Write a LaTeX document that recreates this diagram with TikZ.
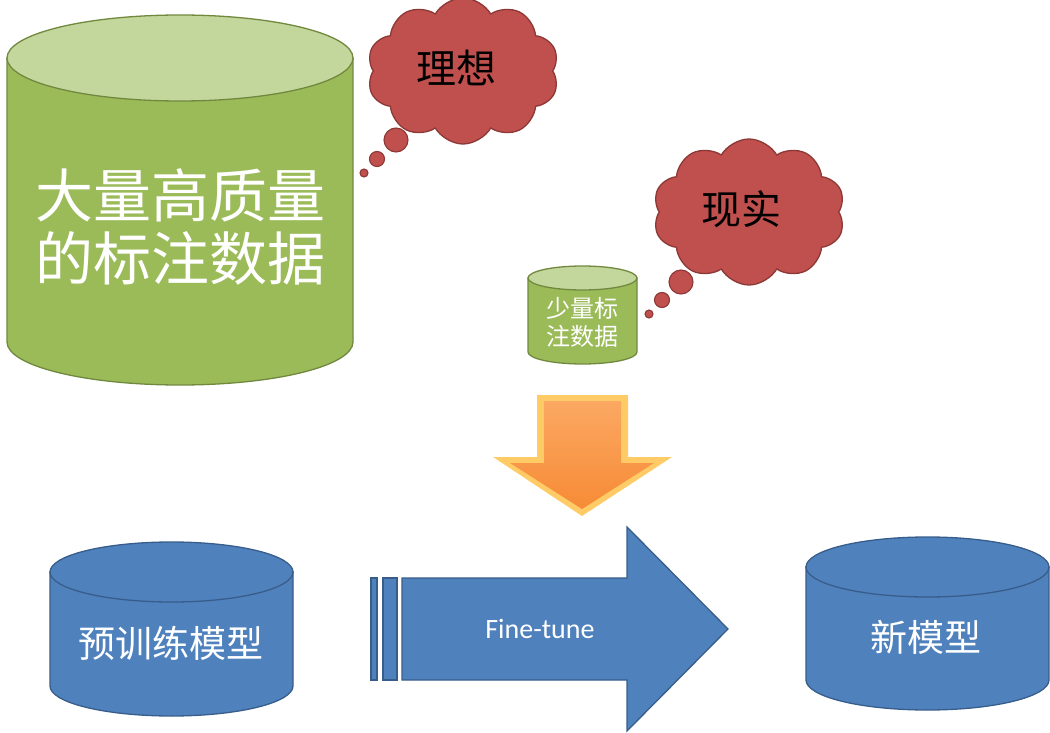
\documentclass[tikz,border=0pt]{standalone}
\usepackage{fontspec}
\setmainfont{Carlito}
\newfontfamily\cjk{Noto Sans CJK SC}
\usetikzlibrary{shapes.symbols}
\definecolor{gfill}{HTML}{9BBB59}
\definecolor{gtop}{HTML}{C3D69B}
\definecolor{gline}{HTML}{71893F}
\definecolor{rfill}{HTML}{C0504D}
\definecolor{rline}{HTML}{8C3836}
\definecolor{bfill}{HTML}{4F81BD}
\definecolor{bline}{HTML}{385D8A}
\definecolor{oglow}{HTML}{FFCB66}
\definecolor{otop}{HTML}{FBA862}
\definecolor{obot}{HTML}{F68B36}
\tikzset{
  gcyl/.style={fill=gfill, draw=gline, line width=1.3pt},
  gcyltop/.style={fill=gtop, draw=gline, line width=1.3pt},
  bcyl/.style={fill=bfill, draw=bline, line width=1.3pt},
  thought/.style={cloud, cloud puffs=10, cloud puff arc=120, aspect=1.3, fill=rfill, draw=rline, line width=1.3pt, inner sep=0pt},
  bubble/.style={circle, fill=rfill, draw=rline, line width=1.1pt, inner sep=0pt},
  wtext/.style={text=white, align=center, inner sep=0pt},
}
\begin{document}
\begin{tikzpicture}[x=1pt,y=-1pt]
\useasboundingbox (0,0) rectangle (1050,733);
% big green cylinder
\draw[gcyl] (7,58) -- (7,342) arc[start angle=180,end angle=360,x radius=173pt,y radius=43pt] -- (353,58) -- cycle;
\draw[gcyltop] (180,58) ellipse[x radius=173pt,y radius=43pt];
\node[wtext, font=\cjk\fontsize{58}{63}\selectfont] (big) at (180,227) {大量高质量\\的标注数据};
% thought 1
\node[thought, minimum width=192pt, minimum height=146pt] (c1) at (463,71) {};
\node[font=\cjk\fontsize{40}{44}\selectfont, inner sep=0pt] (t1) at (456,68) {理想};
\node[bubble, minimum size=24pt] (b11) at (396,140) {};
\node[bubble, minimum size=15pt] (b12) at (377,159) {};
\node[bubble, minimum size=8pt] (b13) at (364,173) {};
% small green cylinder
\draw[gcyl] (528,278) -- (528,352) arc[start angle=180,end angle=360,x radius=54.5pt,y radius=12pt] -- (637,278) -- cycle;
\draw[gcyltop] (582.5,278) ellipse[x radius=54.5pt,y radius=12pt];
\node[wtext, font=\cjk\fontsize{24}{28}\selectfont] (small) at (582,322) {少量标\\注数据};
% thought 2
\node[thought, minimum width=192pt, minimum height=146pt] (c2) at (749,212) {};
\node[font=\cjk\fontsize{40}{44}\selectfont, inner sep=0pt] (t2) at (741,209) {现实};
\node[bubble, minimum size=24pt] (b21) at (681,282) {};
\node[bubble, minimum size=15pt] (b22) at (662,300) {};
\node[bubble, minimum size=8pt] (b23) at (649,314) {};
% orange arrow
\fill[oglow] (537,395) -- (628,395) -- (628,457) -- (672,457) -- (582,516) -- (493,457) -- (537,457) -- cycle;
\shade[top color=otop, bottom color=obot] (544,401) -- (621,401) -- (621,463) -- (654,463) -- (582,509) -- (510,463) -- (544,463) -- cycle;
% blue cylinders
\draw[bcyl] (50,572) -- (50,686) arc[start angle=180,end angle=360,x radius=121.5pt,y radius=30pt] -- (293,572) -- cycle;
\draw[bcyl] (171.5,572) ellipse[x radius=121.5pt,y radius=30pt];
\node[wtext, font=\cjk\fontsize{37}{40}\selectfont] (pre) at (171,643) {预训练模型};
\draw[bcyl] (806,567) -- (806,680) arc[start angle=180,end angle=360,x radius=121.5pt,y radius=30pt] -- (1049,567) -- cycle;
\draw[bcyl] (927.5,567) ellipse[x radius=121.5pt,y radius=30pt];
\node[wtext, font=\cjk\fontsize{37}{40}\selectfont] (new) at (926,637) {新模型};
% blue arrow
\draw[bcyl] (371,578) rectangle (377,680);
\draw[bcyl] (383,578) rectangle (397,680);
\draw[bcyl] (402,578) -- (627,578) -- (627,527) -- (728,629) -- (627,731) -- (627,680) -- (402,680) -- cycle;
\node[wtext, font=\fontsize{28}{32}\selectfont] (ft) at (540,629) {Fine-tune};
\end{tikzpicture}
\end{document}
